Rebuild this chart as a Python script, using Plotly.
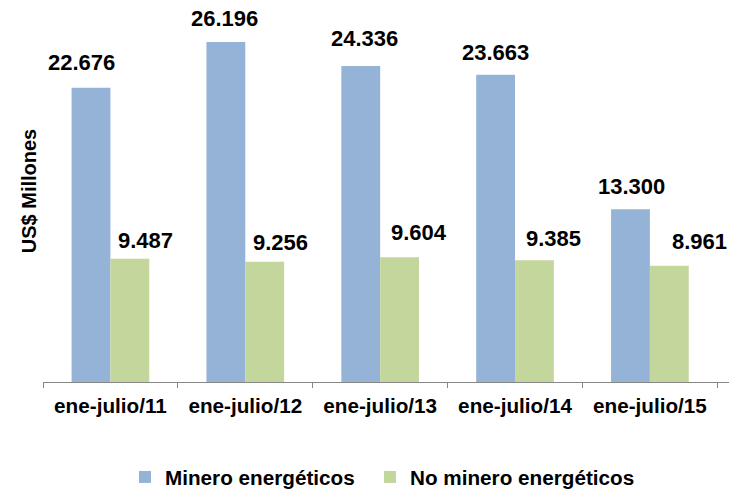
import plotly.graph_objects as go

categories = ["ene-julio/11", "ene-julio/12", "ene-julio/13", "ene-julio/14", "ene-julio/15"]
minero = [22676, 26196, 24336, 23663, 13300]
no_minero = [9487, 9256, 9604, 9385, 8961]
series_names = ["Minero energéticos", "No minero energéticos"]
y_title = "US$ Millones"

# label placement offsets (px) relative to category centre / bar top
blue_dx = [-28.6, -21.3, -16, -19.2, -18.9]
blue_gap = [16, 14, 18, 13, 13]
green_dx = [35.4, 35.2, 39, 38.8, 49.6]
green_gap = [9, 10, 15, 12, 15]

FONT = "Arial, Liberation Sans, Helvetica, sans-serif"
BLUE = "#95B3D7"
GREEN = "#C3D69B"
AXIS = "#868686"

W, H = 739, 490
L, R, T, B = 43, 10, 0, 108
PLOT_W = W - L - R
PLOT_H = H - T - B

fig = go.Figure()
fig.add_trace(go.Bar(name=series_names[0], x=categories, y=minero, legend="legend",
                     marker=dict(color=BLUE, line=dict(width=0))))
fig.add_trace(go.Bar(name=series_names[1], x=categories, y=no_minero, legend="legend2",
                     marker=dict(color=GREEN, line=dict(width=0))))

def fmt(v):
    return f"{v:,}".replace(",", ".")

lab_font = dict(family=FONT, size=22, color="black", weight="bold")
annotations = []
for i, c in enumerate(categories):
    annotations.append(dict(x=c, y=minero[i], xref="x", yref="y", text=fmt(minero[i]),
                            showarrow=False, xanchor="center", yanchor="bottom",
                            xshift=blue_dx[i], yshift=blue_gap[i] - 5, font=lab_font))
    annotations.append(dict(x=c, y=no_minero[i], xref="x", yref="y", text=fmt(no_minero[i]),
                            showarrow=False, xanchor="center", yanchor="bottom",
                            xshift=green_dx[i], yshift=green_gap[i] - 5, font=lab_font))

leg_font = dict(family=FONT, size=20.7, color="black", weight="bold")
leg_y = (PLOT_H - 477) / PLOT_H
fig.update_layout(
    width=W, height=H, autosize=False,
    margin=dict(l=L, r=R, t=T, b=B, autoexpand=False),
    paper_bgcolor="white", plot_bgcolor="white",
    barmode="group", bargap=0.424, bargroupgap=0,
    font=dict(family=FONT, color="black"),
    annotations=annotations,
    showlegend=True,
    legend=dict(orientation="h", x=(125 - L) / PLOT_W, xanchor="left",
                y=leg_y, yanchor="middle", font=leg_font, bgcolor="rgba(0,0,0,0)"),
    legend2=dict(orientation="h", x=(370 - L) / PLOT_W, xanchor="left",
                 y=leg_y, yanchor="middle", font=leg_font, bgcolor="rgba(0,0,0,0)"),
)
fig.update_xaxes(showline=True, linecolor=AXIS, linewidth=1,
                 ticks="outside", tickson="boundaries", ticklen=5, tickcolor=AXIS,
                 tickfont=dict(family=FONT, size=20.7, color="black", weight="bold"),
                 ticklabelstandoff=5,
                 showgrid=False, zeroline=False, automargin=False)
fig.update_yaxes(range=[0, PLOT_H / 12.98 * 1000], showline=False, showgrid=False, zeroline=False,
                 showticklabels=False, ticks="",
                 title=dict(text=y_title, standoff=0,
                            font=dict(family=FONT, size=20, color="black", weight="bold")),
                 automargin=False)

fig.write_html("out.html", config={"displayModeBar": False},
               post_script="document.body.style.margin='0';")
